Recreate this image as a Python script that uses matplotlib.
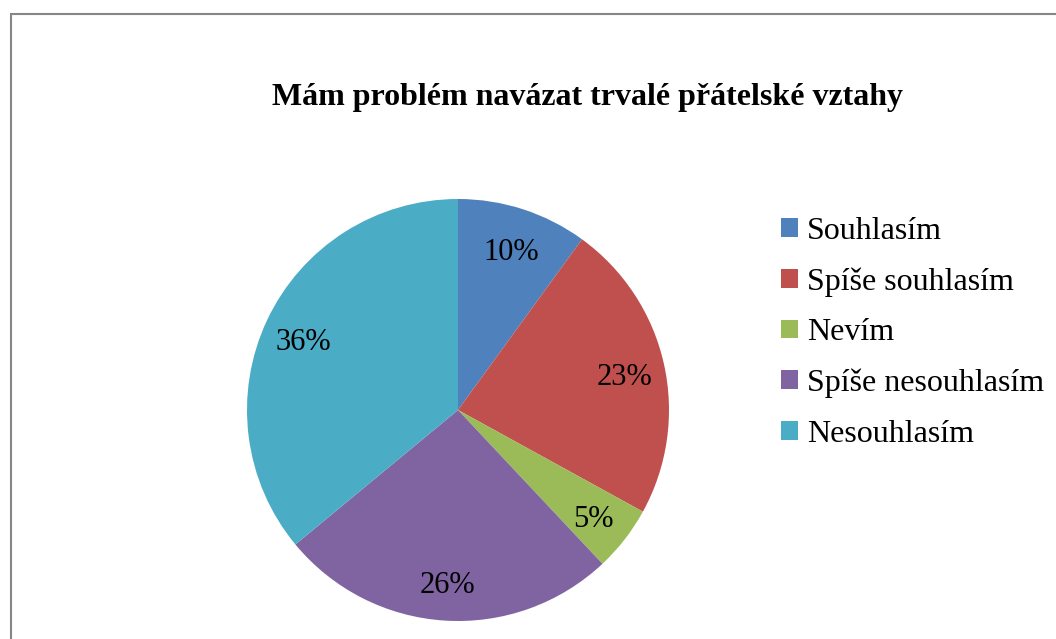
import matplotlib
matplotlib.use("Agg")
import matplotlib.pyplot as plt
import matplotlib.patches as mpatches
import matplotlib.transforms as mtransforms

# data
categories = ["Souhlasím", "Spíše souhlasím", "Nevím", "Spíše nesouhlasím", "Nesouhlasím"]
shares = [10, 23, 5, 26, 36]
colors = ["#4F81BD", "#C0504D", "#9BBB59", "#8064A2", "#4BACC6"]
title = "Mám problém navázat trvalé přátelské vztahy"

W, H = 1056, 639
plt.rcParams['font.family'] = ['Liberation Serif', 'DejaVu Serif']

fig = plt.figure(figsize=(W / 100, H / 100), dpi=100)

# pie: centre (458, 410) px, radius 211 px
cx, cy, r = 458, 410, 211
ax = fig.add_axes([(cx - r) / W, (H - cy - r) / H, 2 * r / W, 2 * r / H])
wedges, texts, autotexts = ax.pie(shares, colors=colors, startangle=90, counterclock=False,
                                  autopct='%d%%', pctdistance=0.81,
                                  wedgeprops=dict(linewidth=0),
                                  textprops=dict(fontsize=22, color='black'))
ax.set_xlim(-1, 1)
ax.set_ylim(-1, 1)
ax.set_aspect('equal')
ax.axis('off')
for w in wedges:
    w.set_clip_on(False)
# nudge labels down a little, like the original
shift = mtransforms.ScaledTranslation(0, -5 / 100, fig.dpi_scale_trans)
for t in autotexts:
    t.set_transform(t.get_transform() + shift)

fig.text(588 / W, 1 - 98 / H, title, ha='center', va='center',
         fontsize=23, fontweight='bold')

# outer chart border (right and bottom edges fall outside the crop)
border = mpatches.Rectangle((11 / W, -0.1), 2, (H - 14) / H + 0.1, transform=fig.transFigure,
                            fill=False, edgecolor='#868686', linewidth=1.5)
fig.patches.append(border)

handles = [mpatches.Patch(facecolor=c, edgecolor='none') for c in colors]
fig.legend(handles, categories, loc='upper left', bbox_to_anchor=(781 / W, 1 - 217 / H),
           frameon=False, fontsize=23, handlelength=0.53, handleheight=0.53,
           handletextpad=0.28, labelspacing=0.67, borderaxespad=0, borderpad=0)

fig.savefig("out.png", dpi=100, facecolor='white')
